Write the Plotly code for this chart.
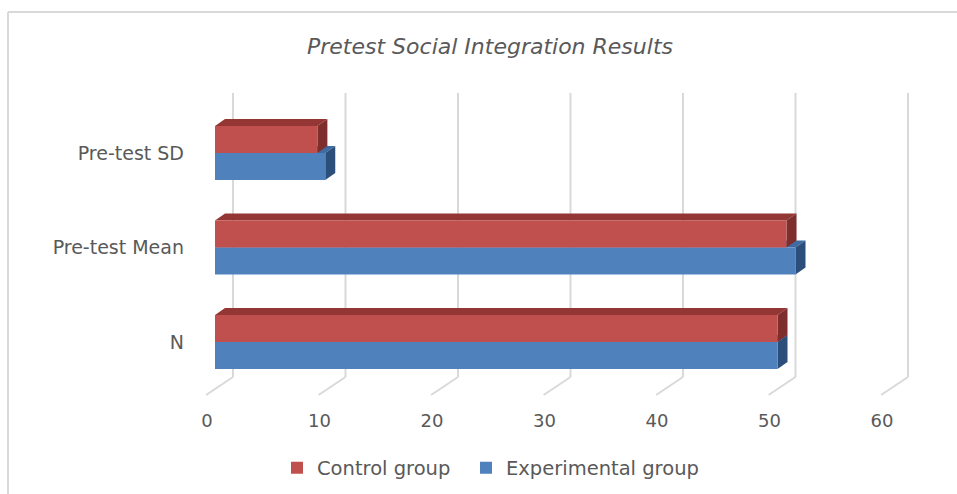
import plotly.graph_objects as go

# ---- data ----
categories = ["N", "Pre-test Mean", "Pre-test SD"]
control = [50, 50.8, 9.1]
experimental = [50, 51.6, 9.8]
x_ticks = [0, 10, 20, 30, 40, 50, 60]

# ---- geometry ----
W, H = 957, 494
L, R, T, B = 200, 37, 93, 117
PW = W - L - R
PH = H - T - B
PX_PER_UNIT = 11.25          # pixels per data unit on the value axis
BAR_ZERO_PX = 215            # bars sit at mid depth
GRID_ZERO_PX = 233           # back wall
LABEL_ZERO_PX = 207          # front edge of the floor
CAT_PX = 94.5                # pixels per category
BAR_W = 27 / CAT_PX          # bar thickness in category units
DX = 10 / PX_PER_UNIT        # 3D depth offset, value units
DY = 7 / CAT_PX              # 3D depth offset, category units
FLOOR_DROP = 18 / PH         # floor depth (paper units)

FONT = "DejaVu Sans"
TXT = "#595959"
GRID = "#D9D9D9"
RED, RED_TOP, RED_SIDE = "#C0504D", "#943634", "#7E2F2D"
BLUE, BLUE_TOP, BLUE_SIDE = "#4F81BD", "#3E6BA4", "#2C4E7A"


def rng(zero_px):
    return [-(zero_px - L) / PX_PER_UNIT, (L + PW - zero_px) / PX_PER_UNIT]


def px_x(px):
    return (px - L) / PW


def px_y(py):
    return (T + PH - py) / PH


ypos = list(range(len(categories)))

fig = go.Figure()
fig.add_trace(go.Bar(name="Experimental group", y=ypos, x=experimental, orientation="h",
                     marker=dict(color=BLUE, line=dict(width=0)), xaxis="x", yaxis="y",
                     legend="legend2"))
fig.add_trace(go.Bar(name="Control group", y=ypos, x=control, orientation="h",
                     marker=dict(color=RED, line=dict(width=0)), xaxis="x", yaxis="y",
                     legend="legend"))

shapes = []

# back-wall gridlines
grid_shift = (GRID_ZERO_PX - BAR_ZERO_PX) / PX_PER_UNIT
for k in x_ticks:
    shapes.append(dict(type="line", xref="x", yref="paper", x0=k + grid_shift, y0=0,
                       x1=k + grid_shift, y1=1, layer="below",
                       line=dict(color=GRID, width=2)))


def faces(v, yb, yt, top_col, side_col):
    top = f"M 0,{yt} L {DX},{yt + DY} L {v + DX},{yt + DY} L {v},{yt} Z"
    side = f"M {v},{yb} L {v},{yt} L {v + DX},{yt + DY} L {v + DX},{yb + DY} Z"
    out = []
    for p, c in ((top, top_col), (side, side_col)):
        out.append(dict(type="path", path=p, xref="x", yref="y", layer="between",
                        fillcolor=c, line=dict(width=0)))
    return out


for i, v in enumerate(experimental):
    shapes += faces(v, i - BAR_W, i, BLUE_TOP, BLUE_SIDE)
for i, v in enumerate(control):
    shapes += faces(v, i, i + BAR_W, RED_TOP, RED_SIDE)

# floor lines (back wall bottom to front edge)
back_shift = (GRID_ZERO_PX - LABEL_ZERO_PX) / PX_PER_UNIT
for k in x_ticks:
    shapes.append(dict(type="line", xref="x2", yref="paper", x0=k + back_shift, y0=0,
                       x1=k - 0.08, y1=-FLOOR_DROP, line=dict(color=GRID, width=2)))

# chart border
shapes.append(dict(type="line", xref="paper", yref="paper", x0=px_x(8), y0=px_y(12),
                   x1=px_x(W + 5), y1=px_y(12), line=dict(color=GRID, width=2)))
shapes.append(dict(type="line", xref="paper", yref="paper", x0=px_x(8), y0=px_y(12),
                   x1=px_x(8), y1=px_y(H + 5), line=dict(color=GRID, width=2)))

legend_common = dict(orientation="h", xref="container", xanchor="left",
                     y=(H - 468) / H, yref="container", yanchor="middle",
                     font=dict(family=FONT, size=19.5, color=TXT),
                     bgcolor="rgba(0,0,0,0)")

fig.update_layout(
    width=W, height=H,
    margin=dict(l=L, r=R, t=T, b=B, pad=0),
    paper_bgcolor="white", plot_bgcolor="rgba(0,0,0,0)",
    barmode="group", bargap=1 - 2 * BAR_W, bargroupgap=0,
    title=dict(text="<i>Pretest Social Integration Results</i>",
               font=dict(family=FONT, size=22, color=TXT),
               x=490 / W, xref="container", xanchor="center",
               y=(H - 46) / H, yref="container", yanchor="middle"),
    xaxis=dict(range=rng(BAR_ZERO_PX), showgrid=False, zeroline=False,
               showticklabels=False, showline=False, fixedrange=True),
    xaxis2=dict(range=rng(LABEL_ZERO_PX), overlaying="x", side="bottom",
                tickvals=x_ticks, showgrid=False, zeroline=False, showline=False,
                ticks="", ticklabelstandoff=31,
                tickfont=dict(family=FONT, size=18, color=TXT)),
    yaxis=dict(range=[-(T + PH - 342) / CAT_PX, (342 - T) / CAT_PX],
               tickvals=ypos, ticktext=categories, showgrid=False, zeroline=False,
               showline=False, ticks="", ticklabelstandoff=15,
               tickfont=dict(family=FONT, size=19, color=TXT)),
    legend=dict(x=277 / W, **legend_common),
    legend2=dict(x=466 / W, **legend_common),
    shapes=shapes,
    showlegend=True,
)

fig.write_html("out.html", config={"displayModeBar": False},
               post_script="document.body.style.margin='0';")
